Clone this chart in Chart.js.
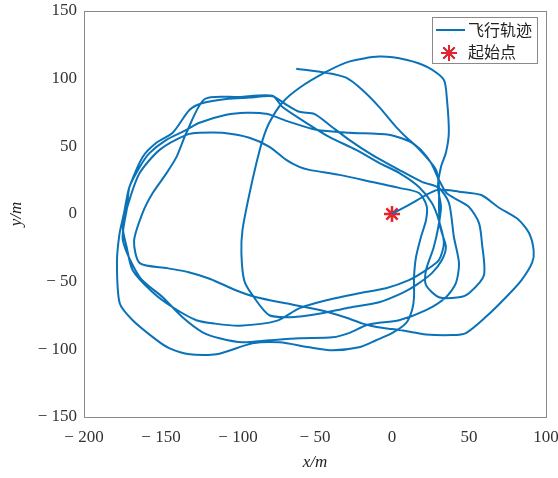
<!DOCTYPE html>
<html>
<head>
<meta charset="utf-8">
<style>
  html, body { margin: 0; padding: 0; background: #fff; }
  #trackChart { display: block; }
</style>
</head>
<body>
<canvas id="trackChart" width="558" height="478"></canvas>

<script src="https://cdn.jsdelivr.net/npm/chart.js"></script>

<script>
// 飞行轨迹 (x/m, y/m)
const pathX = [
  0, 13, 22, 30, 43.5, 58, 69, 82, 89, 92, 91, 84, 74, 61, 48, 39, 22, 9, 0, -10, -19,
  -30, -47, -69, -88, -101, -118, -132, -146, -163.8, -167.5, -162, -155.4, -146.5, -140, -133.5, -121.6, -99, -77.6,
  -71.3, -55.7, -40.8, -23.3, -8.4, 4.6, 17.5, 25.9, 30.5,
  33.7, 30.5, 22.1, 11, -3.9, -21.4, -42.6, -60, -75, -99, -115, -127, -142.4, -155.4, -168.4, -172.3, -174.8,
  -170.5, -163.8, -150.9, -133.5, -125, -110, -92.6, -79.6, -68.7, -60.2, -53.7, -34.2, -12.9, 4.6, 17.5, 22.5,
  22.1, 18.8, 15.6, 14.3, 14.3, 13, 9.1, 0, -10.3, -21.4, -38.6, -53.7, -73, -90.6, -114, -131.4, -144.4, -153,
  -168.4, -176.8, -178.6, -177, -174, -172.5, -170.5, -162, -153, -142.4, -131.4, -122.9, -107.6, -92.6, -77.6,
  -68.5, -60.1, -50.5, -40.8, -27.8, -12.9, 4.6, 19.5, 30.5,
  37, 40.2, 43.5, 41.5, 35, 22.1, 4.6, -10.3, -16.8, -28, -38.6, -60.1, -79.6, -97, -112, -123, -136, -148.9,
  -163.8, -174.8, -172, -170.5, -163.8, -157.5, -146.5, -133.5, -125, -107.6, -94.6, -81.6, -66.7, -49.2, -27.8,
  -1.9, 13, 22.1, 28.6, 30.5, 30.5, 31,
  32.4, 35, 32.4, 25.9, 15.6, 6.5, -8.4, -29.7, -45.2, -62, -79.6, -90.6, -96, -97.8, -97.1, -93, -88, -84, -79.7,
  -71.3, -60, -42.8, -27.9, -8.4, 9.1, 24, 33.7, 35.7, 36.9, 35, 31.8, 29.8, 31.8, 30, 27, 22.1, 22.1, 30.5, 43.5,
  50, 59.7, 58.4, 56.5, 50, 40, 35, 30.5, 25.3, 18.8, 11, 2.6, -8.4, -19.4, -29.8, -42.8, -62.2
];
const pathY = [
  0, 8, 14, 18, 16.5, 14, 5, -4, -14, -27, -36, -49, -61.5, -76, -88, -89.5, -89, -86.5, -85, -83.5, -81,
  -76.5, -71, -66, -61.5, -56.5, -48, -43, -40, -36.3, -20, 0.7, 15.5, 30, 42, 60, 85, 86.4, 87.4,
  79.2, 67.4, 57, 47.4, 37.8, 30.4, 20, 8.1, -5,
  -21.5, -34, -41.5, -48.9, -54.8, -58.5, -63.7, -69.6, -79, -82.5, -81, -78.5, -68.9, -57.8, -41.5, -24.4, -9.6,
  10.4, 30.4, 47.4, 58.5, 60, 60, 56.3, 49.6, 40, 34.8, 32.6, 28.9, 23.7, 19.3, 15.5, 6,
  -4.4, -17, -31.8, -46.7, -61.5, -71.1, -80.7, -88.1, -93.3, -98.5, -100.7, -98.5, -94.8, -95.6, -103.7, -103.7, -99.3, -93,
  -78.5, -66, -36.3, -15, 0.7, 10, 20, 42, 52.6, 60, 77, 82, 85, 86, 87,
  80.7, 75.5, 74, 66, 54.8, 43.7, 32.6, 23.7, 19.3,
  8.1, -17, -36.3, -51.1, -61.5, -71.1, -78.5, -80.7, -82.2, -88, -91.1, -91.8, -93.3, -94.8, -91.8, -87.4, -76.3, -61.5,
  -46.7, -19.3, 5, 20, 34.8, 45, 54.8, 62.2, 67.4, 73.3, 74.8, 74, 68.1, 62.2, 60,
  58.5, 52.6, 42.2, 32.6, 20, 5.2, -8,
  -14, -24.4, -34, -43.7, -52.6, -58.5, -65.2, -69.6, -73.3, -76, -74.8, -60, -48.9, -28.9, -11.9, 12.6, 37.8, 54.8, 67.4,
  82.2, 93.3, 105, 112.6, 116.3, 114, 108, 99, 84.4, 60, 45.2, 34.8, 20, 5.2, -10, -25, -41.5, -52.6, -61.5, -61.5,
  -58.5, -45.2, -21.5, -6.7, 5.2, 12, 16, 25.2, 37.8, 47.4, 54.8, 64.4, 79.2, 91.8, 100.7, 104.4, 107.4
];

// 起始点
const startX = [0];
const startY = [0];

const xTickLabels = ['\u2212 200', '\u2212 150', '\u2212 100', '\u2212 50', '0', '50', '100'];
const yTickLabels = ['\u2212 150', '\u2212 100', '\u2212 50', '0', '50', '100', '150'];
const legendLabels = ['飞行轨迹', '起始点'];

const lineColor = '#0a72b8';
const starColor = '#e8232c';

// 外框
const framePlugin = {
  id: 'frame',
  afterDraw(chart) {
    const a = chart.chartArea;
    const ctx = chart.ctx;
    ctx.save();
    ctx.strokeStyle = '#8a8a8a';
    ctx.lineWidth = 1;
    ctx.strokeRect(Math.round(a.left) + 0.5, Math.round(a.top) + 0.5,
                   Math.round(a.right - a.left), Math.round(a.bottom - a.top));
    ctx.restore();
  }
};

// 图例 (右上角)
const legendPlugin = {
  id: 'boxLegend',
  afterDraw(chart) {
    const ctx = chart.ctx;
    const a = chart.chartArea;
    const w = 105, h = 46;
    const x0 = a.right - 9 - w, y0 = a.top + 6;
    ctx.save();
    ctx.fillStyle = '#fff';
    ctx.fillRect(x0, y0, w, h);
    ctx.strokeStyle = '#8a8a8a';
    ctx.lineWidth = 1;
    ctx.strokeRect(x0 + 0.5, y0 + 0.5, w, h);

    ctx.strokeStyle = lineColor;
    ctx.lineWidth = 2;
    ctx.beginPath();
    ctx.moveTo(x0 + 4, y0 + 13);
    ctx.lineTo(x0 + 33, y0 + 13);
    ctx.stroke();

    Chart.helpers.drawPoint(ctx, {
      pointStyle: 'star', radius: 8, borderWidth: 2,
    }, x0 + 17, y0 + 36);
    ctx.strokeStyle = starColor;
    ctx.lineWidth = 2;
    ctx.stroke();

    ctx.fillStyle = '#222';
    ctx.font = '16px "Noto Sans CJK SC"';
    ctx.textBaseline = 'middle';
    ctx.fillText(legendLabels[0], x0 + 36, y0 + 13);
    ctx.fillText(legendLabels[1], x0 + 36, y0 + 35);
    ctx.restore();
  }
};

const tickFont = { family: '"Liberation Serif", "DejaVu Serif", serif', size: 17 };

new Chart(document.getElementById('trackChart').getContext('2d'), {
  type: 'scatter',
  data: {
    datasets: [
      {
        label: legendLabels[0],
        data: pathX.map((x, i) => ({ x: x, y: pathY[i] })),
        showLine: true,
        borderColor: lineColor,
        borderWidth: 2,
        pointRadius: 0,
        tension: 0.25,
        fill: false
      },
      {
        label: legendLabels[1],
        data: startX.map((x, i) => ({ x: x, y: startY[i] })),
        showLine: false,
        pointStyle: 'star',
        pointRadius: 8,
        pointBorderWidth: 2.5,
        borderColor: starColor,
        backgroundColor: starColor
      }
    ]
  },
  options: {
    responsive: false,
    animation: false,
    layout: { padding: { left: 0, top: 11, right: 12, bottom: 5 } },
    plugins: {
      legend: { display: false },
      tooltip: { enabled: false }
    },
    scales: {
      x: {
        type: 'linear',
        min: -200,
        max: 100,
        afterFit: (s) => {
          s.height = 56;
          s.paddingLeft = 0;
          s.paddingRight = 0;
        },
        grid: { display: false, drawTicks: false, tickLength: 0 },
        border: { display: false },
        ticks: {
          stepSize: 50,
          padding: 10,
          color: '#333',
          font: tickFont,
          maxRotation: 0,
          callback: (v) => xTickLabels[(v + 200) / 50]
        },
        title: {
          display: true,
          text: 'x/m',
          color: '#222',
          font: { family: '"Liberation Serif", serif', size: 17, style: 'italic' },
          padding: { top: 2, bottom: 0 }
        }
      },
      y: {
        type: 'linear',
        min: -150,
        max: 150,
        afterFit: (s) => {
          s.width = 84;
          s.paddingTop = 0;
          s.paddingBottom = 0;
        },
        grid: { display: false, drawTicks: false, tickLength: 0 },
        border: { display: false },
        ticks: {
          stepSize: 50,
          padding: 7,
          color: '#333',
          font: tickFont,
          callback: (v) => yTickLabels[(v + 150) / 50]
        },
        title: {
          display: true,
          text: 'y/m',
          color: '#222',
          font: { family: '"Liberation Serif", serif', size: 17, style: 'italic' },
          padding: { top: 6, bottom: 4 }
        }
      }
    }
  },
  plugins: [framePlugin, legendPlugin]
});
</script>
</body>
</html>
